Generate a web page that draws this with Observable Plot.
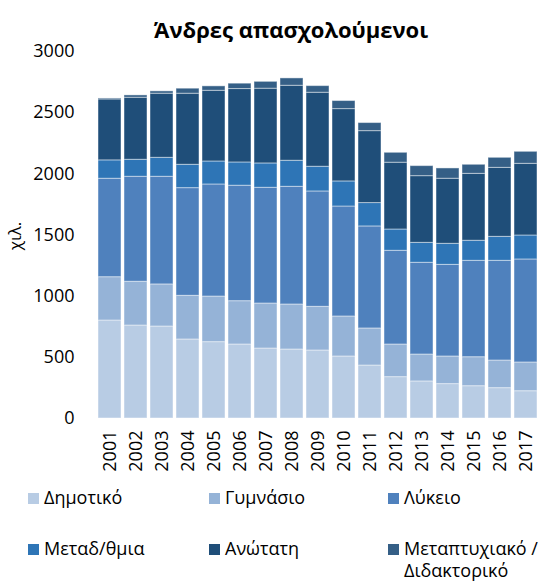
<!DOCTYPE html>
<html>
<head>
<meta charset="utf-8">
<script src="https://cdn.jsdelivr.net/npm/d3@7"></script>
<script src="https://cdn.jsdelivr.net/npm/@observablehq/plot@0.6"></script>
<style>
  html, body { margin: 0; padding: 0; background: #fff; overflow: hidden; }
  body { width: 541px; height: 583px; position: relative; font-family: "Open Sans", sans-serif; color: #000; }
  #title { position: absolute; top: 14px; left: 0; width: 582px; text-align: center; font-weight: bold; font-size: 22px; line-height: 30px; }
  #chart { position: absolute; top: 32px; left: 0; }
  #ylab { position: absolute; left: 0; top: 221px; width: 30px; height: 30px; }
  #ylab span { position: absolute; left: 50%; top: 50%; font-size: 17px; line-height: 20px; white-space: nowrap; transform: translate(-50%, -50%) rotate(-90deg); }
  .leg { position: absolute; font-size: 18px; line-height: 22px; white-space: nowrap; }
  .leg .sw { position: absolute; left: 0; top: 7px; width: 11px; height: 11px; }
  .leg .tx { position: absolute; left: 16px; top: 0; }
</style>
</head>
<body>
<div id="title">Άνδρες απασχολούμενοι</div>
<div id="chart"></div>
<div id="ylab"><span>χιλ.</span></div>
<div id="legend"></div>
<script>
const years = ["2001","2002","2003","2004","2005","2006","2007","2008","2009","2010","2011","2012","2013","2014","2015","2016","2017"];
const seriesNames = ["Δημοτικό","Γυμνάσιο","Λύκειο","Μεταδ/θμια","Ανώτατη","Μεταπτυχιακό / Διδακτορικό"];
const seriesColors = ["#b8cce4","#95b3d7","#4f81bd","#2e75b6","#1f4e79","#355f86"];
const dimotiko = [801,760,752,646,624,605,572,564,556,507,433,338,303,281,264,248,223];
const gymnasio = [354,358,344,357,373,354,368,368,357,327,303,267,220,226,237,226,235];
const lykeio   = [805,858,880,880,916,944,946,962,943,899,834,766,750,749,788,815,842];
const metad    = [150,139,155,191,188,190,199,213,202,205,191,174,163,172,164,196,196];
const anotati  = [498,507,524,581,578,600,611,613,605,591,588,546,545,532,547,564,586];
const metapt   = [8,19,19,41,36,44,56,60,54,66,66,81,82,84,74,82,98];
const yTicks = [0,500,1000,1500,2000,2500,3000];

const seriesValues = [dimotiko, gymnasio, lykeio, metad, anotati, metapt];
const data = [];
seriesNames.forEach((s, i) => {
  years.forEach((y, j) => data.push({year: y, series: s, value: seriesValues[i][j]}));
});

const chart = Plot.plot({
  width: 541,
  height: 448,
  marginTop: 19,
  marginBottom: 62,
  marginLeft: 95,
  marginRight: 0,
  style: {fontFamily: "Open Sans, sans-serif", fontSize: "18px", color: "#000", background: "transparent"},
  x: {domain: years, paddingInner: 0.1, paddingOuter: 0.05, label: null},
  y: {domain: [0, 3000], label: null},
  color: {domain: seriesNames, range: seriesColors},
  marks: [
    Plot.gridY(yTicks, {stroke: "#d9d9d9", strokeOpacity: 1, strokeDasharray: "3,2", x1: 95, x2: 541}),
    Plot.barY(data, {x: "year", y: "value", fill: "series", stroke: "white", strokeOpacity: 0.45, strokeWidth: 1, order: seriesNames}),
    Plot.ruleY([0], {stroke: "#d9d9d9", strokeWidth: 1.5, x1: 91, x2: 541}),
    Plot.axisY(yTicks, {tickSize: 0, tickPadding: 21, fontSize: 18, tickFormat: d => String(d), label: null}),
    Plot.axisX({tickSize: 0, tickPadding: 12, tickRotate: -90, fontSize: 18, label: null})
  ]
});
document.getElementById("chart").appendChild(chart);

const legendPos = [[28,486],[209,486],[388,486],[28,537],[209,537],[388,537]];
const leg = document.getElementById("legend");
seriesNames.forEach((s, i) => {
  const d = document.createElement("div");
  d.className = "leg";
  d.style.left = legendPos[i][0] + "px";
  d.style.top = legendPos[i][1] + "px";
  const label = s === "Μεταπτυχιακό / Διδακτορικό" ? "Μεταπτυχιακό /<br>Διδακτορικό" : s;
  d.innerHTML = `<span class="sw" style="background:${seriesColors[i]}"></span><span class="tx">${label}</span>`;
  leg.appendChild(d);
});
</script>
</body>
</html>
